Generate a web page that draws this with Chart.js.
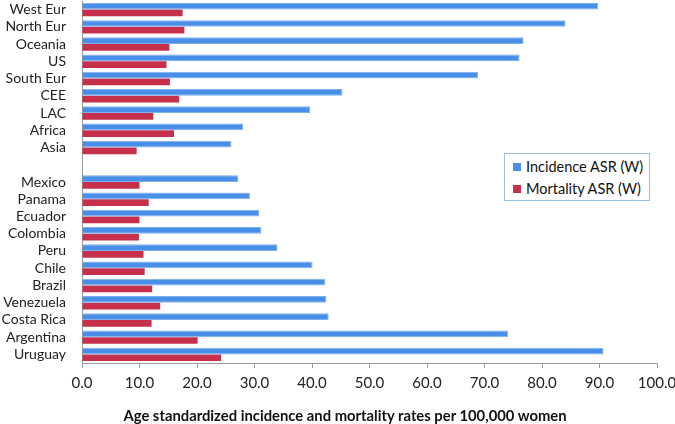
<!DOCTYPE html>
<html>
<head>
<meta charset="utf-8">
<script src="https://cdn.jsdelivr.net/npm/chart.js@4"></script>
<style>
  body { margin: 0; background: #fff; }
  #wrap { position: relative; width: 675px; height: 424px; }
  #legend {
    position: absolute; left: 504px; top: 153px; width: 144px; height: 46px;
    border: 1px solid #9cbde8; background: #fff;
    font-family: Lato, sans-serif; font-size: 14.5px; color: #111;
  }
  .item { position: absolute; left: 8px; height: 18px; line-height: 18px; white-space: nowrap; }
  .item span { display: inline-block; width: 8px; height: 8px; margin-right: 5px; vertical-align: 1px; }
  #titulo {
    position: absolute; left: 0; width: 690px; top: 406px; text-align: center;
    font-family: Lato, sans-serif; font-weight: bold; font-size: 14.8px; color: #111;
  }
</style>
</head>
<body>
<div id="wrap">
  <canvas id="grafico"></canvas>
  <div id="legend">
    <div class="item" style="top:4px"><span style="background:#4a8fe7"></span>Incidence ASR (W)</div>
    <div class="item" style="top:26px"><span style="background:#c6304a"></span>Mortality ASR (W)</div>
  </div>
  <div id="titulo">Age standardized incidence and mortality rates per 100,000 women</div>
</div>
<script>
// categorias (la vacia es el hueco entre regiones y paises)
const regiones = ['West Eur', 'North Eur', 'Oceania', 'US', 'South Eur', 'CEE', 'LAC', 'Africa', 'Asia', '',
  'Mexico', 'Panama', 'Ecuador', 'Colombia', 'Peru', 'Chile', 'Brazil', 'Venezuela', 'Costa Rica', 'Argentina', 'Uruguay'];

const incidencia = [89.8, 84.1, 76.8, 76.1, 68.9, 45.3, 39.7, 28.0, 26.0, null,
  27.2, 29.2, 30.8, 31.2, 34.0, 40.1, 42.3, 42.5, 42.9, 74.1, 90.7];

const mortalidad = [17.5, 17.8, 15.2, 14.7, 15.3, 16.9, 12.4, 16.0, 9.5, null,
  10.0, 11.6, 10.0, 9.9, 10.7, 10.9, 12.2, 13.6, 12.1, 20.1, 24.2];

const ticksX = [0, 10, 20, 30, 40, 50, 60, 70, 80, 90, 100];

const ctx = document.getElementById('grafico').getContext('2d');
new Chart(ctx, {
  type: 'bar',
  data: {
    labels: regiones,
    datasets: [
      { label: 'Incidence ASR (W)', data: incidencia, backgroundColor: '#4a8fe7',
        borderColor: '#7fb0f0', borderWidth: 1, borderSkipped: 'left' },
      { label: 'Mortality ASR (W)', data: mortalidad, backgroundColor: '#c6304a' }
    ]
  },
  options: {
    indexAxis: 'y',
    responsive: true,
    maintainAspectRatio: false,
    animation: false,
    layout: { padding: { top: 1, right: 18, left: 0, bottom: 0 } },
    datasets: { bar: { categoryPercentage: 0.78, barPercentage: 1.0 } },
    plugins: { legend: { display: false }, tooltip: { enabled: false } },
    scales: {
      x: {
        min: 0, max: 100,
        afterBuildTicks: (s) => { s.ticks = ticksX.map(v => ({ value: v })); },
        afterFit: (s) => { s.height = 61; s.paddingLeft = 0; s.paddingRight = 0; },
        grid: { drawOnChartArea: false, drawTicks: true, tickLength: 5, color: '#9a9a9a' },
        border: { display: true, color: '#9a9a9a' },
        ticks: {
          padding: 6, color: '#222',
          font: { family: 'Lato', size: 15 },
          callback: (v) => Number(v).toFixed(1)
        }
      },
      y: {
        afterFit: (s) => { s.width = 82; s.paddingTop = 0; s.paddingBottom = 0; },
        grid: { display: false, drawTicks: false },
        border: { display: true, color: '#9a9a9a' },
        ticks: { padding: 16, color: '#222', autoSkip: false, font: { family: 'Lato', size: 14 } }
      }
    }
  }
});
</script>
</body>
</html>
